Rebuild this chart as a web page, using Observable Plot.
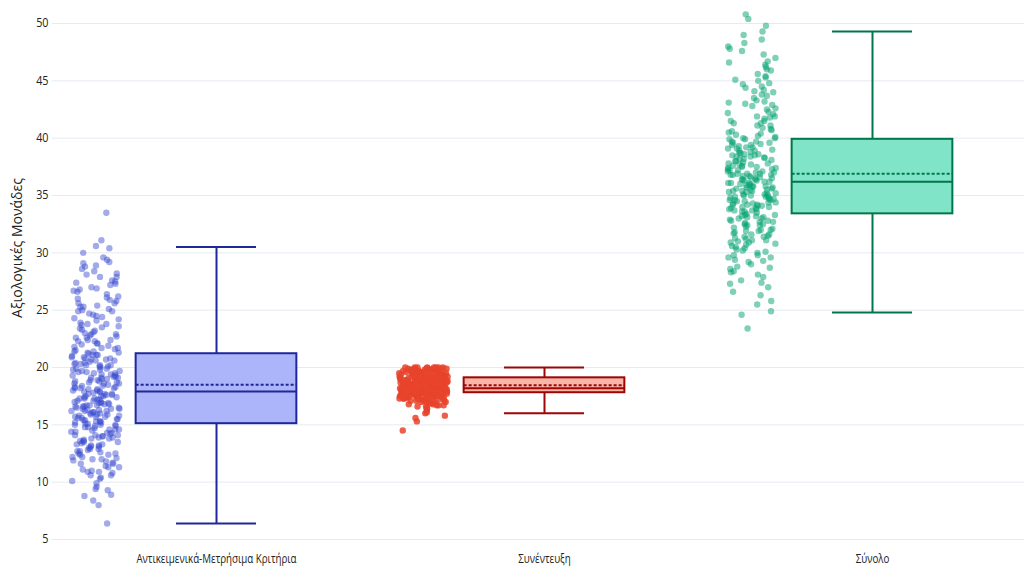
<!DOCTYPE html>
<html>
<head>
<meta charset="utf-8">
<script src="https://cdn.jsdelivr.net/npm/d3@7"></script>
<script src="https://cdn.jsdelivr.net/npm/@observablehq/plot@0.6"></script>
<style>
  html, body { margin: 0; padding: 0; background: #fff; }
  #chart svg { display: block; }
</style>
</head>
<body>
<div id="chart"></div>
<script>
// ---- Data ----
const categories = ["Αντικειμενικά-Μετρήσιμα Κριτήρια", "Συνέντευξη", "Σύνολο"];
const yTicks = [5, 10, 15, 20, 25, 30, 35, 40, 45, 50];
const yLabel = "Αξιολογικές Μονάδες";

// box statistics
const lowerFence = [6.4, 16.0, 24.8];
const q1 = [15.1, 17.8, 33.4];
const median = [17.9, 18.2, 36.2];
const q3 = [21.2, 19.1, 39.9];
const upperFence = [30.5, 20.0, 49.3];
const mean = [18.5, 18.45, 36.9];

// individual scores (estimated from the point clouds)
const scoresObjective = [
6.4, 8.0, 8.4, 8.8, 8.9, 9.3, 9.4, 9.6, 9.9, 10.1, 10.3, 10.4, 10.6, 10.8, 10.9, 11.0, 11.1, 11.3, 11.4, 11.6,
11.7, 11.9, 12.0, 12.1, 12.2, 12.4, 12.5, 12.5, 12.7, 12.8, 12.9, 13.0, 13.1, 13.2, 13.3, 13.3, 13.5, 13.6, 13.7, 13.8,
13.9, 14.0, 14.1, 14.1, 14.2, 14.3, 14.4, 14.5, 14.6, 14.6, 14.7, 14.8, 14.9, 15.0, 15.0, 15.1, 15.1, 15.2, 15.3, 15.3,
15.4, 15.5, 15.5, 15.6, 15.7, 15.7, 15.8, 15.9, 15.9, 16.0, 16.1, 16.1, 16.2, 16.2, 16.3, 16.4, 16.4, 16.5, 16.6, 16.6,
16.7, 16.7, 16.8, 16.9, 16.9, 17.0, 17.1, 17.1, 17.2, 17.3, 17.3, 17.4, 17.5, 17.5, 17.6, 17.7, 17.7, 17.8, 17.9, 17.9,
18.0, 18.1, 18.2, 18.2, 18.3, 18.4, 18.5, 18.6, 18.6, 18.7, 18.8, 18.9, 19.0, 19.1, 19.1, 19.2, 19.3, 19.4, 19.5, 19.6,
19.6, 19.7, 19.8, 19.9, 20.0, 20.1, 20.2, 20.2, 20.3, 20.4, 20.5, 20.6, 20.7, 20.8, 20.9, 21.0, 21.1, 21.1, 21.2, 21.3,
21.4, 21.5, 21.7, 21.8, 22.0, 22.1, 22.3, 22.4, 22.6, 22.8, 22.9, 23.1, 23.3, 23.4, 23.6, 23.8, 23.9, 24.1, 24.3, 24.5,
24.7, 24.9, 25.1, 25.3, 25.4, 25.6, 25.8, 26.0, 26.2, 26.4, 26.6, 26.8, 27.0, 27.2, 27.4, 27.6, 27.9, 28.1, 28.4, 28.6,
28.8, 29.1, 29.4, 29.6, 30.0, 30.4, 30.6, 31.1, 33.5,
12.2, 16.8, 19.4, 22.7, 14.3, 25.9, 17.6, 20.8, 13.1, 18.9, 23.5, 15.7, 27.3, 11.8, 19.9, 16.2, 21.6, 24.4, 14.9, 18.3,
12.7, 20.3, 26.7, 15.4, 17.2, 22.1, 13.8, 19.1, 28.2, 16.5, 10.6, 21.9, 18.6, 14.6, 24.9, 17.9, 12.9, 20.6, 23.2, 15.9,
19.7, 27.9, 16.0, 13.4, 22.4, 18.1, 11.3, 25.3, 17.4, 20.1, 14.1, 19.3, 26.1, 15.2, 21.3, 16.9, 12.4, 23.8, 18.4, 13.6,
20.9, 17.0, 28.9, 15.6, 19.5, 22.9, 14.4, 18.7, 24.2, 16.3, 11.6, 21.1, 17.7, 13.2, 25.6, 19.0, 15.0, 20.4, 26.9, 16.7,
12.0, 22.3, 18.2, 14.8, 23.0, 17.3, 29.2, 15.8, 19.8, 13.9, 21.7, 16.4, 24.6, 18.8, 10.9, 20.2, 27.5, 15.3, 17.5, 22.6,
14.0, 19.2, 12.6, 25.0, 16.6, 21.4, 18.0, 13.5, 20.7, 23.7
];
const scoresInterview = [
14.5, 15.3, 15.6, 15.8, 16.0, 16.1, 16.3, 16.4, 16.5, 16.6, 16.7, 16.7, 16.8, 16.9, 16.9, 17.0, 17.0, 17.1, 17.1, 17.2,
17.2, 17.3, 17.3, 17.3, 17.4, 17.4, 17.4, 17.5, 17.5, 17.5, 17.6, 17.6, 17.6, 17.7, 17.7, 17.7, 17.7, 17.8, 17.8, 17.8,
17.8, 17.8, 17.9, 17.9, 17.9, 17.9, 17.9, 18.0, 18.0, 18.0, 18.0, 18.0, 18.0, 18.1, 18.1, 18.1, 18.1, 18.1, 18.2, 18.2,
18.2, 18.2, 18.2, 18.2, 18.3, 18.3, 18.3, 18.3, 18.3, 18.4, 18.4, 18.4, 18.4, 18.5, 18.5, 18.5, 18.5, 18.6, 18.6, 18.6,
18.6, 18.7, 18.7, 18.7, 18.7, 18.8, 18.8, 18.8, 18.8, 18.9, 18.9, 18.9, 18.9, 19.0, 19.0, 19.0, 19.0, 19.1, 19.1, 19.1,
19.1, 19.2, 19.2, 19.2, 19.3, 19.3, 19.3, 19.4, 19.4, 19.4, 19.5, 19.5, 19.5, 19.6, 19.6, 19.6, 19.7, 19.7, 19.7, 19.8,
19.8, 19.8, 19.9, 19.9, 19.9, 20.0, 20.0, 20.0, 20.0,
19.5, 17.9, 18.6, 19.8, 17.4, 18.2, 19.1, 18.9, 17.7, 19.6, 18.4, 17.2, 19.3, 18.0, 18.7, 19.9, 17.6, 18.3, 19.0, 18.8,
17.8, 19.4, 18.1, 17.5, 19.7, 18.5, 17.3, 19.2, 18.6, 17.9, 20.0, 18.2, 17.1, 19.5, 18.9, 17.7, 19.0, 18.4, 17.4, 19.8,
18.0, 17.6, 19.3, 18.7, 17.8, 19.6, 18.3, 17.0, 19.1, 18.5, 17.5, 19.9, 18.1, 17.3, 19.4, 18.8, 17.9, 19.7, 18.6, 16.8,
19.2, 18.4, 17.6, 20.0, 18.2, 17.8, 19.5, 18.9, 17.2, 19.0, 18.5, 17.7, 19.8, 18.3, 17.4, 19.3, 18.7, 16.9, 19.6, 18.0,
17.5, 19.1, 18.6, 17.9, 19.9, 18.1, 17.1, 19.4, 18.8, 17.6, 19.7, 18.4, 17.3, 19.2, 18.2, 17.8, 20.0, 18.9, 16.6, 19.5,
18.5, 17.7, 19.0, 18.3, 17.5, 19.8, 18.7, 17.0, 19.3, 18.1, 17.9, 19.6, 18.6, 17.4, 19.1, 18.0, 17.2, 19.9, 18.8, 17.8,
19.4, 18.4, 16.7, 19.7, 18.2, 17.6, 19.2, 18.9, 17.3, 20.0, 18.5, 17.9, 19.5, 18.3
];
const scoresTotal = [
23.4, 24.6, 24.9, 25.5, 25.8, 26.3, 26.6, 27.0, 27.3, 27.6, 27.9, 28.1, 28.4, 28.6, 28.8, 29.0, 29.2, 29.4, 29.6, 29.8,
30.0, 30.1, 30.3, 30.5, 30.6, 30.8, 30.9, 31.1, 31.2, 31.4, 31.5, 31.6, 31.8, 31.9, 32.0, 32.1, 32.2, 32.4, 32.5, 32.6,
32.7, 32.8, 32.9, 33.0, 33.1, 33.2, 33.3, 33.4, 33.5, 33.6, 33.7, 33.8, 33.9, 34.0, 34.1, 34.2, 34.2, 34.3, 34.4, 34.5,
34.6, 34.6, 34.7, 34.8, 34.9, 35.0, 35.0, 35.1, 35.2, 35.3, 35.4, 35.4, 35.5, 35.6, 35.7, 35.8, 35.8, 35.9, 36.0, 36.1,
36.1, 36.2, 36.3, 36.4, 36.4, 36.5, 36.6, 36.7, 36.8, 36.8, 36.9, 37.0, 37.1, 37.2, 37.3, 37.4, 37.5, 37.6, 37.7, 37.8,
37.9, 38.0, 38.1, 38.2, 38.3, 38.4, 38.5, 38.6, 38.7, 38.8, 38.9, 39.0, 39.1, 39.2, 39.4, 39.5, 39.6, 39.7, 39.9, 40.0,
40.2, 40.4, 40.5, 40.7, 40.9, 41.1, 41.3, 41.5, 41.7, 41.9, 42.1, 42.3, 42.5, 42.8, 43.0, 43.2, 43.5, 43.7, 44.0, 44.2,
44.5, 44.7, 45.0, 45.3, 45.6, 45.9, 46.2, 46.4, 46.7, 47.0, 47.3, 47.6, 48.0, 48.3, 48.6, 49.0, 49.3, 49.8, 50.4, 50.8,
35.6, 31.4, 38.9, 42.6, 33.2, 36.7, 29.8, 40.3, 34.5, 37.8, 44.1, 32.3, 35.1, 39.6, 30.7, 36.3, 41.8, 33.9, 38.2, 45.4,
34.8, 31.9, 37.1, 43.3, 35.9, 29.3, 39.2, 33.6, 36.9, 41.1, 32.8, 38.6, 46.6, 34.2, 30.4, 37.5, 40.8, 35.3, 33.1, 42.2,
36.5, 31.1, 39.9, 34.7, 28.7, 37.3, 44.8, 35.7, 32.5, 38.0, 41.5, 36.0, 30.2, 34.4, 39.4, 33.7, 37.7, 43.8, 35.2, 31.7,
38.4, 36.6, 40.1, 32.0, 34.9, 47.8, 37.0, 29.6, 39.1, 35.5, 33.3, 42.9, 36.2, 31.3, 38.7, 34.1, 40.6, 36.8, 32.7, 45.1,
35.0, 30.9, 37.6, 41.3, 34.3, 39.7, 33.0, 36.4, 28.3, 38.3, 35.8, 43.1, 31.6, 37.2, 40.0, 34.6, 32.4, 46.0, 36.1, 39.3,
33.8, 27.4, 38.5, 35.4, 41.9, 37.4, 31.0, 44.4, 34.0, 36.9
];

// ---- Styles ----
const pointColor = ["#3545cf", "#e8432b", "#00a26f"];
const pointOpacity = [0.46, 0.85, 0.5];
const boxFill = ["#acb5f9", "#f9b6a8", "#7fe4c8"];
const boxStroke = ["#1f289a", "#9c0606", "#00774a"];

const scoreSets = [scoresObjective, scoresInterview, scoresTotal];
const boxHalf = 0.245, capHalf = 0.122, stripOffset = -0.369, stripWidth = 0.148;

// deterministic, irregular horizontal jitter (layout only)
function jitter(i, k) {
  const s = Math.sin((i + 1) * 12.9898 + (k + 1) * 78.233) * 43758.5453;
  return s - Math.floor(s) - 0.5;
}
const points = scoreSets.flatMap((arr, k) =>
  arr.map((v, i) => ({ k, v, xp: k + stripOffset + jitter(i, k) * stripWidth }))
);
const boxes = categories.map((c, k) => ({
  k, lo: lowerFence[k], q1: q1[k], med: median[k], q3: q3[k], hi: upperFence[k], mean: mean[k]
}));

const font = "'Open Sans', sans-serif";

const chart = Plot.plot({
  width: 1024,
  height: 568,
  marginLeft: 52,
  marginRight: 0,
  marginTop: 10,
  marginBottom: 29,
  style: { fontFamily: font, fontSize: "12px", color: "#222", background: "#fff" },
  x: { domain: [-0.5, 2.5], range: [52, 1036] },
  y: { domain: [5, 50], range: [539, 23] },
  marks: [
    Plot.gridY(yTicks, { stroke: "#e6eaf2", strokeOpacity: 1, strokeWidth: 1 }),
    Plot.axisY(yTicks, { tickSize: 0, tickPadding: 4, label: null, fontSize: 12, className: "yax" }),
    Plot.axisX([0, 1, 2], { tickSize: 0, tickPadding: 15, label: null, tickFormat: i => categories[i], fontSize: 12.5, className: "xax" }),
    Plot.text([yLabel], {
      frameAnchor: "left", dx: -35, dy: -27, rotate: -90, textAnchor: "middle",
      fontFamily: "'Open Sans', sans-serif", fontSize: 14, fill: "#222"
    }),
    // jittered points
    Plot.dot(points, {
      x: "xp", y: "v", r: 3.2,
      fill: d => pointColor[d.k], fillOpacity: d => pointOpacity[d.k], stroke: "none"
    }),
    // whiskers
    Plot.ruleX(boxes, { x: "k", y1: "q3", y2: "hi", stroke: d => boxStroke[d.k], strokeWidth: 2 }),
    Plot.ruleX(boxes, { x: "k", y1: "lo", y2: "q1", stroke: d => boxStroke[d.k], strokeWidth: 2 }),
    Plot.ruleY(boxes, { y: "hi", x1: d => d.k - capHalf, x2: d => d.k + capHalf, stroke: d => boxStroke[d.k], strokeWidth: 2 }),
    Plot.ruleY(boxes, { y: "lo", x1: d => d.k - capHalf, x2: d => d.k + capHalf, stroke: d => boxStroke[d.k], strokeWidth: 2 }),
    // boxes
    Plot.rect(boxes, {
      x1: d => d.k - boxHalf, x2: d => d.k + boxHalf, y1: "q1", y2: "q3",
      fill: d => boxFill[d.k], stroke: d => boxStroke[d.k], strokeWidth: 2
    }),
    Plot.ruleY(boxes, { y: "med", x1: d => d.k - boxHalf, x2: d => d.k + boxHalf, stroke: d => boxStroke[d.k], strokeWidth: 2 }),
    Plot.ruleY(boxes, { y: "mean", x1: d => d.k - boxHalf, x2: d => d.k + boxHalf, stroke: d => boxStroke[d.k], strokeWidth: 2, strokeDasharray: "3,2" })
  ]
});
// condensed look of the tick labels (horizontal squeeze only)
chart.querySelectorAll("g.xax text").forEach(t => {
  t.setAttribute("transform", (t.getAttribute("transform") || "") + " scale(0.78,1)");
});
chart.querySelectorAll("g.yax text").forEach(t => {
  t.setAttribute("transform", (t.getAttribute("transform") || "") + " scale(0.9,1)");
});
document.getElementById("chart").appendChild(chart);
</script>
</body>
</html>
